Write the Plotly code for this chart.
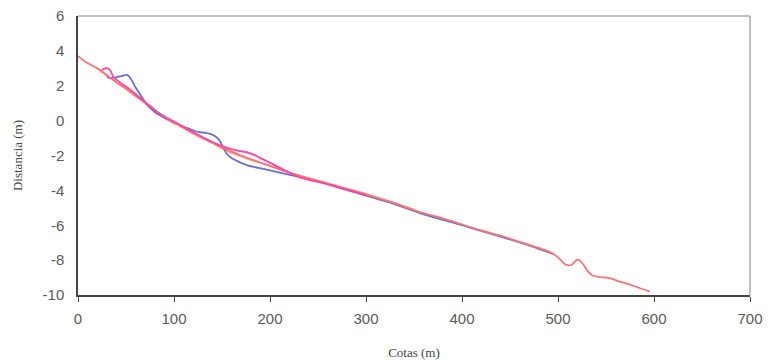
import plotly.graph_objects as go

# --- data ---
red_x = [0, 10, 20, 23, 30, 40, 50, 60, 75, 85, 96, 110, 125, 140, 155, 170, 190, 210, 224, 250, 275, 300,
         325, 356, 380, 400, 420, 440, 460, 480, 490, 497, 503, 508, 514, 518, 521, 525, 530, 535, 545, 555,
         565, 575, 585, 596]
red_y = [3.7, 3.3, 3.0, 2.9, 2.6, 2.2, 1.85, 1.45, 0.85, 0.4, 0.0, -0.4, -0.85, -1.25, -1.65, -2.0, -2.4,
         -2.8, -3.05, -3.45, -3.85, -4.25, -4.65, -5.25, -5.6, -5.95, -6.3, -6.6, -6.95, -7.3, -7.5, -7.7,
         -8.0, -8.25, -8.28, -8.05, -7.97, -8.15, -8.55, -8.85, -8.98, -9.05, -9.25, -9.4, -9.6, -9.8]

blue_x = [30, 35, 40, 45, 51, 55, 60, 66, 72, 80, 92, 105, 115, 125, 133, 140, 147, 151, 155, 160, 176,
          200, 224, 250, 275, 300, 325, 356, 400, 440, 480, 495]
blue_y = [2.5, 2.45, 2.5, 2.55, 2.62, 2.4, 1.9, 1.4, 0.9, 0.5, 0.1, -0.25, -0.45, -0.65, -0.7, -0.8, -1.1,
          -1.5, -1.9, -2.15, -2.55, -2.85, -3.15, -3.5, -3.9, -4.3, -4.7, -5.3, -6.0, -6.65, -7.35, -7.65]

magenta_x = [25, 28, 31, 34, 37, 45, 55, 70, 85, 100, 115, 130, 145, 155, 165, 179, 190, 205, 218, 231,
             260, 300]
magenta_y = [2.9, 3.0, 3.0, 2.85, 2.5, 2.15, 1.75, 1.05, 0.4, -0.05, -0.5, -0.95, -1.35, -1.55, -1.7,
             -1.86, -2.15, -2.55, -2.93, -3.25, -3.65, -4.25]

orange_x = [20, 40, 60, 80, 100, 120, 140, 155, 175, 190, 210, 224, 260, 300, 350]
orange_y = [3.0, 2.2, 1.4, 0.6, -0.1, -0.75, -1.3, -1.74, -2.15, -2.43, -2.75, -3.04, -3.6, -4.2, -5.1]

x_ticks = [0, 100, 200, 300, 400, 500, 600, 700]
y_ticks = [6, 4, 2, 0, -2, -4, -6, -8, -10]

fig = go.Figure()
fig.add_trace(go.Scatter(x=orange_x, y=orange_y, mode="lines",
                         line=dict(color="#f7a585", width=1.8, shape="spline"), name="S4"))
fig.add_trace(go.Scatter(x=blue_x, y=blue_y, mode="lines",
                         line=dict(color="#6674cc", width=1.8, shape="spline"), name="S1"))
fig.add_trace(go.Scatter(x=red_x, y=red_y, mode="lines",
                         line=dict(color="#fb7374", width=1.8, shape="spline"), name="S3"))
fig.add_trace(go.Scatter(x=magenta_x, y=magenta_y, mode="lines",
                         line=dict(color="#ff45a5", width=1.8, shape="spline"), name="S2"))

fig.update_layout(
    width=769, height=360,
    margin=dict(l=78, r=19, t=16, b=65),
    paper_bgcolor="white", plot_bgcolor="white",
    showlegend=False,
    shapes=[
        dict(type="line", xref="paper", yref="paper", x0=0, x1=1, y0=1, y1=1,
             line=dict(color="#aaaaaa", width=1.5)),
        dict(type="line", xref="paper", yref="paper", x0=1, x1=1, y0=0, y1=1,
             line=dict(color="#aaaaaa", width=1.5)),
    ],
)
fig.update_xaxes(
    range=[0, 700], tickvals=x_ticks, ticktext=[str(v) for v in x_ticks], automargin=False,
    showgrid=False, zeroline=False, showline=True, linecolor="#444444", linewidth=1.5,
    ticks="outside", ticklen=5, tickcolor="#444444", ticklabelstandoff=4,
    tickfont=dict(family="Liberation Sans, Arial", size=15, color="#5a5a5a"),
    title=dict(text="Cotas (m)", font=dict(family="Liberation Serif, Times New Roman", size=13, color="#444444"),
               standoff=22),
)
fig.update_yaxes(
    range=[-10, 6], tickvals=y_ticks, ticktext=[str(v) for v in y_ticks], automargin=False,
    showgrid=False, zeroline=False, showline=True, linecolor="#444444", linewidth=1.5,
    ticks="", ticklen=0, ticklabelstandoff=9,
    tickfont=dict(family="Liberation Sans, Arial", size=15, color="#5a5a5a"),
    title=dict(text="Distancia (m)", font=dict(family="Liberation Serif, Times New Roman", size=13, color="#444444"),
               standoff=17),
)

fig.write_html("out.html")
